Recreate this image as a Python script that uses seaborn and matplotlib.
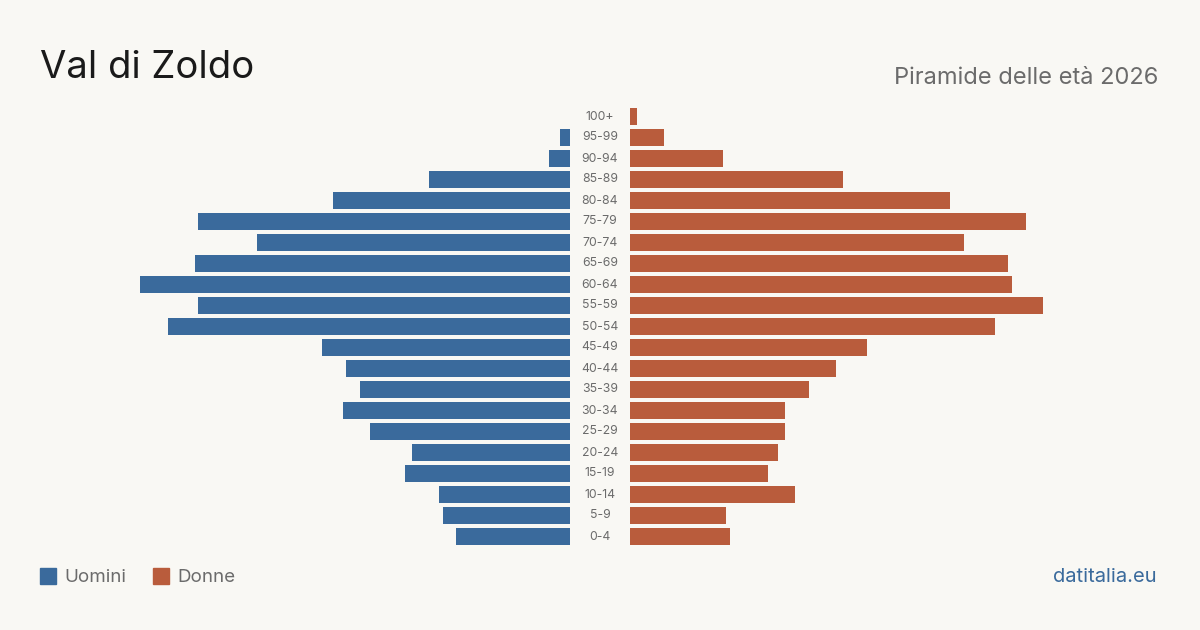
import numpy as np
import pandas as pd
import seaborn as sns
import matplotlib.pyplot as plt
from matplotlib import transforms
from matplotlib.patches import Rectangle

# age classes, youngest first
ages = ['0-4', '5-9', '10-14', '15-19', '20-24', '25-29', '30-34', '35-39', '40-44',
        '45-49', '50-54', '55-59', '60-64', '65-69', '70-74', '75-79', '80-84',
        '85-89', '90-94', '95-99', '100+']
uomini = [33, 37, 38, 48, 46, 58, 66, 61, 65, 72, 117, 108, 125, 109, 91, 108, 69, 41, 6, 3, 0]
donne = [29, 28, 48, 40, 43, 45, 45, 52, 60, 69, 106, 120, 111, 110, 97, 115, 93, 62, 27, 10, 2]

title = 'Val di Zoldo'
subtitle = 'Piramide delle età 2026'
source = 'datitalia.eu'

BG = '#f9f8f4'
BLUE = '#3a6a9c'
ORANGE = '#b95c3c'
GREY = '#6b6b6b'

sns.set_theme(style='white')
plt.rcParams['font.family'] = ['Inter', 'DejaVu Sans']

df = pd.DataFrame({'eta': ages, 'Uomini': uomini, 'Donne': donne})
order = ages[::-1]  # 100+ on top
vmax = max(max(uomini), max(donne))

fig = plt.figure(figsize=(12, 6.3), dpi=100)
fig.patch.set_facecolor(BG)

W, H = 1200, 630
top, bottom = 106, 547
ax_l = fig.add_axes([140 / W, (H - bottom) / H, 430 / W, (bottom - top) / H])
ax_r = fig.add_axes([630 / W, (H - bottom) / H, 430 / W, (bottom - top) / H])

sns.barplot(data=df, x='Uomini', y='eta', order=order, color=BLUE, saturation=1,
            width=0.8, orient='h', linewidth=0, ax=ax_l)
sns.barplot(data=df, x='Donne', y='eta', order=order, color=ORANGE, saturation=1,
            width=0.8, orient='h', linewidth=0, ax=ax_r)

ax_l.set_xlim(vmax, 0)
ax_r.set_xlim(0, vmax)
for ax in (ax_l, ax_r):
    ax.set_facecolor('none')
    ax.set_xlabel('')
    ax.set_ylabel('')
    ax.set_xticks([])
    ax.set_yticks([])
    for sp in ax.spines.values():
        sp.set_visible(False)
    ax.set_ylim(len(ages) - 0.5, -0.5)

# age labels in the central gap
trans = transforms.blended_transform_factory(fig.transFigure, ax_l.transData)
for i, lab in enumerate(order):
    ax_l.text(0.5, i, lab, transform=trans, ha='center', va='center',
              fontsize=8.8, color=GREY, clip_on=False)

fig.text(40 / W, 1 - 68 / H, title, fontsize=27.5, color='#1a1a1a', va='center', ha='left')
fig.text(1158 / W, 1 - 78 / H, subtitle, fontsize=17, color=GREY, va='center', ha='right')

# legend
for x0, col, lab in [(40, BLUE, 'Uomini'), (153, ORANGE, 'Donne')]:
    fig.patches.append(Rectangle((x0 / W, 1 - 584 / H), 16 / W, 16 / H,
                                 transform=fig.transFigure, color=col))
    fig.text((x0 + 24) / W, 1 - 577.5 / H, lab, fontsize=13.5, color=GREY,
             va='center', ha='left')

fig.text(1157 / W, 1 - 577.5 / H, source, fontsize=14.5, color=BLUE, va='center', ha='right')

fig.savefig('out.png', dpi=100, facecolor=BG)
